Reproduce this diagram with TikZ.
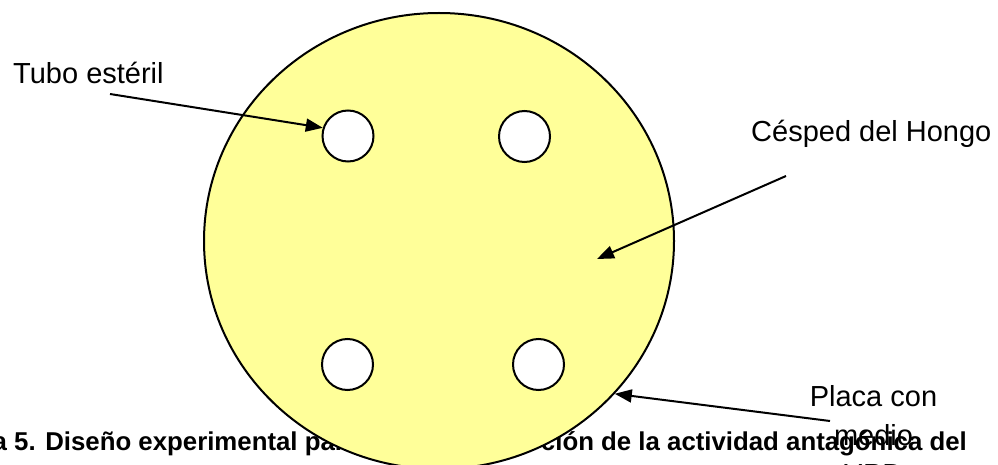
\documentclass[tikz,border=0pt]{standalone}
\usepackage{fontspec}
\setmainfont{Liberation Sans}
\usetikzlibrary{arrows.meta,shapes.geometric}
\definecolor{plateyellow}{HTML}{FFFF99}
\begin{document}
\begin{tikzpicture}[x=1pt,y=-1pt,
  plate/.style={ellipse,draw,line width=2pt,fill=plateyellow,minimum width=470pt,minimum height=456pt,inner sep=0pt},
  tube/.style={circle,draw,line width=2pt,fill=white,minimum size=51pt,inner sep=0pt},
  lbl/.style={font=\fontsize{29}{31}\selectfont,inner sep=0pt},
  captxt/.style={font=\fontsize{25.8}{28}\selectfont\bfseries,inner sep=0pt},
  arr/.style={line width=2pt,-{Triangle[length=17pt,width=13pt]}}]
\useasboundingbox (0,0) rectangle (998,465);
\begin{scope}
\clip (0,0) rectangle (998,465);
\node[captxt,anchor=base west] (capl) at (-72,450) {Figura 5. Diseño experimental para};
\node[captxt,anchor=base east] (capr) at (967,450) {ción de la actividad antagónica del};
\node[plate] (plate) at (439,241) {};
\node[tube] (tl) at (348,136) {};
\node[tube] (tr) at (524.5,136.5) {};
\node[tube] (bl) at (347.5,364.5) {};
\node[tube] (br) at (538.5,364.5) {};
\node[lbl,anchor=base west] (tubo) at (13,84) {Tubo estéril};
\node[lbl,anchor=base west] (cesped) at (751,142) {Césped del Hongo};
\node[lbl,anchor=north,align=center] (placa) at (873.5,385) {Placa con\\[8pt]medio\\[8pt]YPD};
\coordinate (ts) at (110,94);
\coordinate (cs) at (786,176);
\coordinate (ct) at (597,259);
\coordinate (ps) at (830,421);
\draw[arr] (ts) -- (tl.162);
\draw[arr] (cs) -- (ct);
\draw[arr] (ps) -- (plate.-41);
\end{scope}
\end{tikzpicture}
\end{document}
